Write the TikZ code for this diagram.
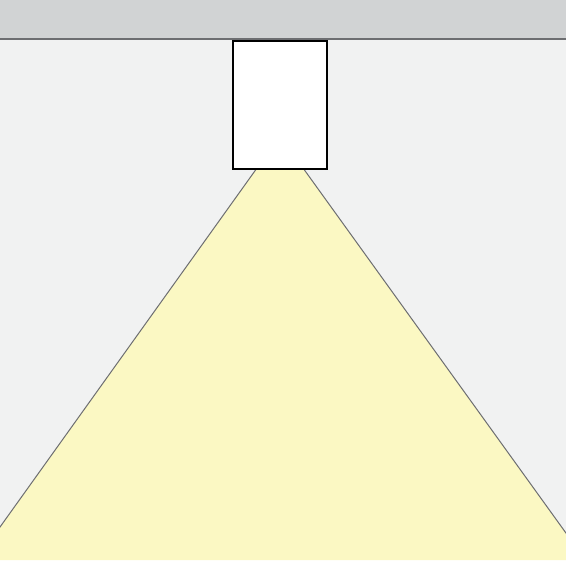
\documentclass[tikz,border=0pt]{standalone}
\definecolor{ceilgray}{HTML}{D1D3D4}
\definecolor{wallgray}{HTML}{F1F2F2}
\definecolor{lightyellow}{HTML}{FBF8C3}
\definecolor{edgegray}{HTML}{6D6E71}
\begin{document}
\begin{tikzpicture}[x=1pt,y=-1pt]
      \useasboundingbox (0,0) rectangle (566,566);
      \fill[white] (0,0) rectangle (566,566);
      \fill[wallgray] (0,39) rectangle (566,560);
      \fill[ceilgray] (0,0) rectangle (566,39);
      \draw[edgegray,line width=1.2pt] (0,39) -- (566,39);
      \coordinate (l0) at (257,168);
      \coordinate (r0) at (303,168);
      \coordinate (l1) at (-23.6,560);
      \coordinate (r1) at (585.4,560);
      \begin{scope}
        \clip (0,0) rectangle (566,560);
        \fill[lightyellow] (l0) -- (r0) -- (r1) -- (l1) -- cycle;
        \draw[edgegray,line width=1pt] (l0) -- (l1);
        \draw[edgegray,line width=1pt] (r0) -- (r1);
      \end{scope}
      \node[draw=black,fill=white,line width=2.6pt,minimum width=94pt,
        minimum height=128pt,inner sep=0pt,anchor=north west] (lamp) at (231.5,39.5) {};
    \end{tikzpicture}
\end{document}
